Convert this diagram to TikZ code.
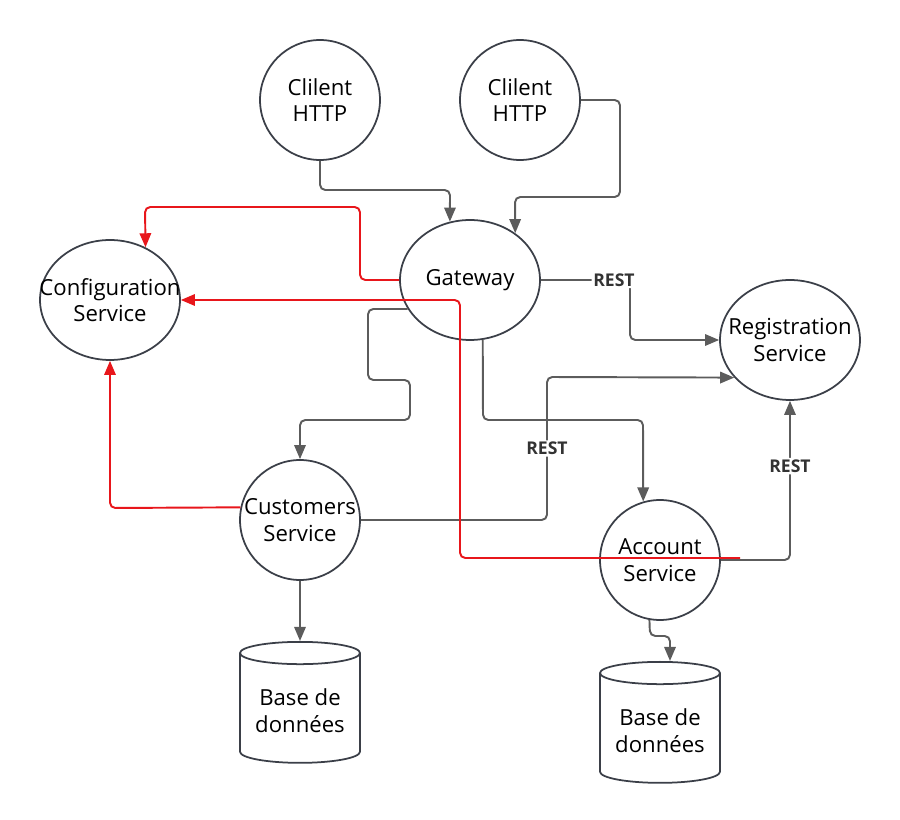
\documentclass[tikz,border=0pt]{standalone}
\usepackage{fontspec}
\setmainfont{Open Sans}
\usetikzlibrary{arrows.meta,calc,shapes.geometric}
\definecolor{edgecol}{HTML}{3B3F48}
\definecolor{linecol}{HTML}{5C5C5C}
\definecolor{redcol}{HTML}{E8161B}
\tikzset{
	svc/.style={circle, draw=edgecol, line width=1pt, minimum size=2.4cm, inner sep=0pt},
	svcell/.style={ellipse, draw=edgecol, line width=1pt, minimum width=2.8cm, minimum height=2.4cm, inner sep=0pt},
	txt/.style={align=center, font=\fontsize{12.6}{15.2}\selectfont},
	db/.style={cylinder, shape border rotate=90, draw=edgecol, line width=1pt, minimum width=2.4cm, minimum height=2.42cm, aspect=0.22, align=center, font=\fontsize{12.6}{15.2}\selectfont},
	conn/.style={draw=linecol, line width=1.1pt, rounded corners=3pt, -{Triangle[length=8pt,width=6.5pt]}},
	redconn/.style={conn, draw=redcol},
	rest/.style={fill=white, inner sep=1pt, text=black!80, font=\bfseries\fontsize{10}{12}\selectfont}
}

\begin{document}
\begin{tikzpicture}[x=0.02cm, y=-0.02cm]
	%%%%% START %%%%%
	\useasboundingbox (0,0) rectangle (900,820);
	
	\node[svc, label={[txt]center:Clilent\\HTTP}] (c1) at (320,100) {};
	\node[svc, label={[txt]center:Clilent\\HTTP}] (c2) at (520,100) {};
	\node[svcell, label={[txt]center:Gateway}] (gw) at (470,280) {};
	\node[svcell, label={[txt]center:Configuration\\Service}] (cfg) at (110,300) {};
	\node[svcell, label={[txt]center:Registration\\Service}] (reg) at (790,340) {};
	\node[svc, label={[txt]center:Customers\\Service}] (cust) at (300,520) {};
	\node[svc, label={[txt]center:Account\\Service}] (acct) at (660,560) {};
	\node[db, anchor=north] (db1) at (300,641) {Base de\\données};
	\node[db, anchor=north] (db2) at (660,661) {Base de\\données};
	\coordinate (acctred) at (740,558);
	
	% clients to gateway
	\draw[conn] (c1.south) -- (320,190) -- (450,190) -- (gw.109);
	\draw[conn] (c2.east) -- (620,100) -- (620,197) -- (515,197) -- (gw.46);
	
	% gateway
	\draw[redconn] (gw.west) -- (360,280) -- (360,207) -- (145,207) -- (cfg.56);
	\draw[conn] (gw.east) -- node[rest, pos=0.82] {REST} (630,280) -- (630,340) -- (reg.west);
	\draw[conn] (gw.205) -- (368,309) -- (368,380) -- (410,380) -- (410,420) -- (300,420) -- (cust.north);
	\draw[conn] (gw.282) -- (483,420) -- (643,420) -- (acct.106);
	
	% customers
	\draw[conn] (cust.east) -- (547,520) -- node[rest, pos=0.5] {REST} (547,377) -- (reg.214);
	\draw[redconn] (cust.168) -- (110,508) -- (cfg.south);
	\draw[conn] (cust.south) -- (db1.north);
	
	% account
	\draw[conn] (acct.east) -- (790,560) -- node[rest, pos=0.59] {REST} (reg.south);
	\draw[redconn] (acctred) -- (460,558) -- (460,300) -- (cfg.east);
	\draw[conn] (acct.260) -- (650,636) -- (670,636) -- ($(db2.north)+(10,0)$);
	
	%%%%% END %%%%%
\end{tikzpicture}
\end{document}
